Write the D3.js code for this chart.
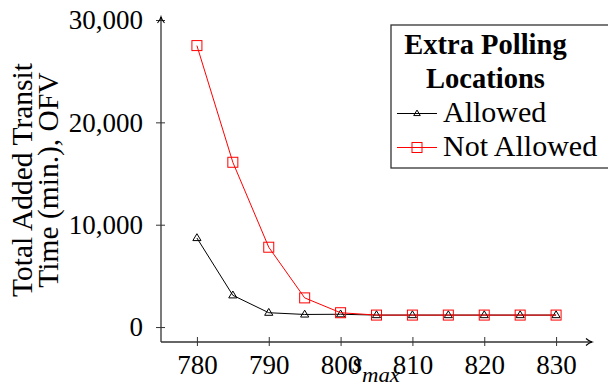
<!DOCTYPE html>
<html>
<head>
<meta charset="utf-8">
<script src="https://cdn.jsdelivr.net/npm/d3@7"></script>
<style>
  body { margin: 0; background: #fff; }
  svg { display: block; }
  text { font-family: "Liberation Serif", "DejaVu Serif", serif; fill: #000; }
</style>
</head>
<body>
<svg id="chart" width="608" height="387"></svg>
<script>
// Maximum allowed voter load s_max, and total added transit time for each case
const sMax = [780, 785, 790, 795, 800, 805, 810, 815, 820, 825, 830];
const allowed = [8700, 3100, 1400, 1230, 1250, 1170, 1170, 1170, 1170, 1170, 1170];
const notAllowed = [27500, 16100, 7800, 2850, 1400, 1170, 1170, 1170, 1170, 1170, 1170];

const xTicks = [780, 790, 800, 810, 820, 830];
const yTicks = [0, 10000, 20000, 30000];

const seriesNames = ["Allowed", "Not Allowed"];
const legendTitle = ["Extra Polling", "Locations"];
const yLabelLines = ["Total Added Transit", "Time (min.), OFV"];

const svg = d3.select("#chart");

const x = d3.scaleLinear().domain([775, 835]).range([161, 592]);
const y = d3.scaleLinear().domain([-1460, 30000]).range([342, 20]);

const axisColor = "#333";

// ---- x axis ----
const gx = svg.append("g").attr("transform", `translate(0,${y.range()[0]})`)
  .call(d3.axisBottom(x).tickValues(xTicks).tickFormat(d3.format("d")).tickSize(5).tickSizeOuter(0));
gx.select(".domain").remove();
gx.selectAll(".tick line").attr("y1", -5).attr("y2", 4).attr("stroke", axisColor).attr("stroke-width", 1);
gx.selectAll(".tick text").attr("y", 32).attr("dy", null)
  .style("font-size", "27px").style("font-family", '"Liberation Serif", serif').attr("fill", "#000");

// ---- y axis ----
const gy = svg.append("g").attr("transform", `translate(${x.range()[0]},0)`)
  .call(d3.axisLeft(y).tickValues(yTicks).tickFormat(d3.format(",")).tickSize(5).tickSizeOuter(0));
gy.select(".domain").remove();
gy.selectAll(".tick line").attr("x1", -5).attr("x2", 4).attr("stroke", axisColor).attr("stroke-width", 1);
gy.selectAll(".tick text").attr("x", -18).attr("dy", "0.33em")
  .style("font-size", "27px").style("font-family", '"Liberation Serif", serif').attr("fill", "#000");

// axis lines with arrow heads
const x0 = x.range()[0], x1 = x.range()[1];
const y0 = y.range()[0], y1 = y.range()[1] - 3;
svg.append("line").attr("x1", x0).attr("x2", x1).attr("y1", y0).attr("y2", y0)
  .attr("stroke", axisColor).attr("stroke-width", 1.3);
svg.append("line").attr("x1", x0).attr("x2", x0).attr("y1", y0).attr("y2", y1)
  .attr("stroke", axisColor).attr("stroke-width", 1.3);
svg.append("path")
  .attr("d", `M${x1 - 6},${y0 - 3.5} Q${x1 - 3},${y0 - 0.8} ${x1},${y0} Q${x1 - 3},${y0 + 0.8} ${x1 - 6},${y0 + 3.5}`)
  .attr("fill", "none").attr("stroke", "#000").attr("stroke-width", 1.1);
svg.append("path")
  .attr("d", `M${x0 - 3.5},${y1 + 6} Q${x0 - 0.8},${y1 + 3} ${x0},${y1} Q${x0 + 0.8},${y1 + 3} ${x0 + 3.5},${y1 + 6}`)
  .attr("fill", "none").attr("stroke", "#000").attr("stroke-width", 1.1);

// ---- axis labels ----
const xl = svg.append("text").attr("x", 352).attr("y", 372).style("font-style", "italic");
xl.append("tspan").style("font-size", "27px").text("s");
xl.append("tspan").attr("x", 362).attr("y", 382).style("font-size", "21px")
  .attr("textLength", 38).attr("lengthAdjust", "spacingAndGlyphs").text("max");

const yl = svg.append("g").attr("transform", "translate(0,180) rotate(-90)");
yl.selectAll("text").data(yLabelLines).join("text")
  .attr("x", 0).attr("y", (d, i) => 32 + i * 26)
  .attr("text-anchor", "middle").style("font-size", "29.5px")
  .text(d => d);

// ---- series ----
const line = d3.line().x(d => x(d[0])).y(d => y(d[1]));
const series = [
  { name: seriesNames[0], values: d3.zip(sMax, allowed), color: "#000", marker: "triangle" },
  { name: seriesNames[1], values: d3.zip(sMax, notAllowed), color: "#ff0000", marker: "square" }
];

function drawMarker(g, type, color, cx, cy, scale) {
  if (type === "triangle") {
    const s = 4.3 * scale;
    g.append("path")
      .attr("d", `M${cx},${cy - s} L${cx + s * 0.95},${cy + s * 0.6} L${cx - s * 0.95},${cy + s * 0.6} Z`)
      .attr("fill", "none").attr("stroke", color).attr("stroke-width", 1);
  } else {
    const s = 5 * scale;
    g.append("rect").attr("x", cx - s).attr("y", cy - s).attr("width", 2 * s).attr("height", 2 * s)
      .attr("fill", "none").attr("stroke", color).attr("stroke-width", 1);
  }
}

series.forEach(s => {
  const g = svg.append("g");
  g.append("path").attr("d", line(s.values)).attr("fill", "none")
    .attr("stroke", s.color).attr("stroke-width", 1);
  s.values.forEach(v => drawMarker(g, s.marker, s.color, x(v[0]), y(v[1]), 1));
});

// ---- legend ----
const lg = svg.append("g");
lg.append("rect").attr("x", 391).attr("y", 25).attr("width", 230).attr("height", 143)
  .attr("fill", "#fff").attr("stroke", axisColor).attr("stroke-width", 1.3);
lg.selectAll("text.title").data(legendTitle).join("text").attr("class", "title")
  .attr("x", 485.5).attr("y", (d, i) => 54 + i * 34)
  .attr("text-anchor", "middle").style("font-size", "28.5px").style("font-weight", "bold")
  .text(d => d);
series.forEach((s, i) => {
  const ly = 113.5 + i * 34;
  lg.append("line").attr("x1", 397).attr("x2", 437).attr("y1", ly).attr("y2", ly)
    .attr("stroke", s.color).attr("stroke-width", 1);
  drawMarker(lg, s.marker, s.color, 417, ly, s.marker === "triangle" ? 0.8 : 1);
  lg.append("text").attr("x", 443).attr("y", ly + 8.5).style("font-size", "30px").text(s.name);
});
</script>
</body>
</html>
